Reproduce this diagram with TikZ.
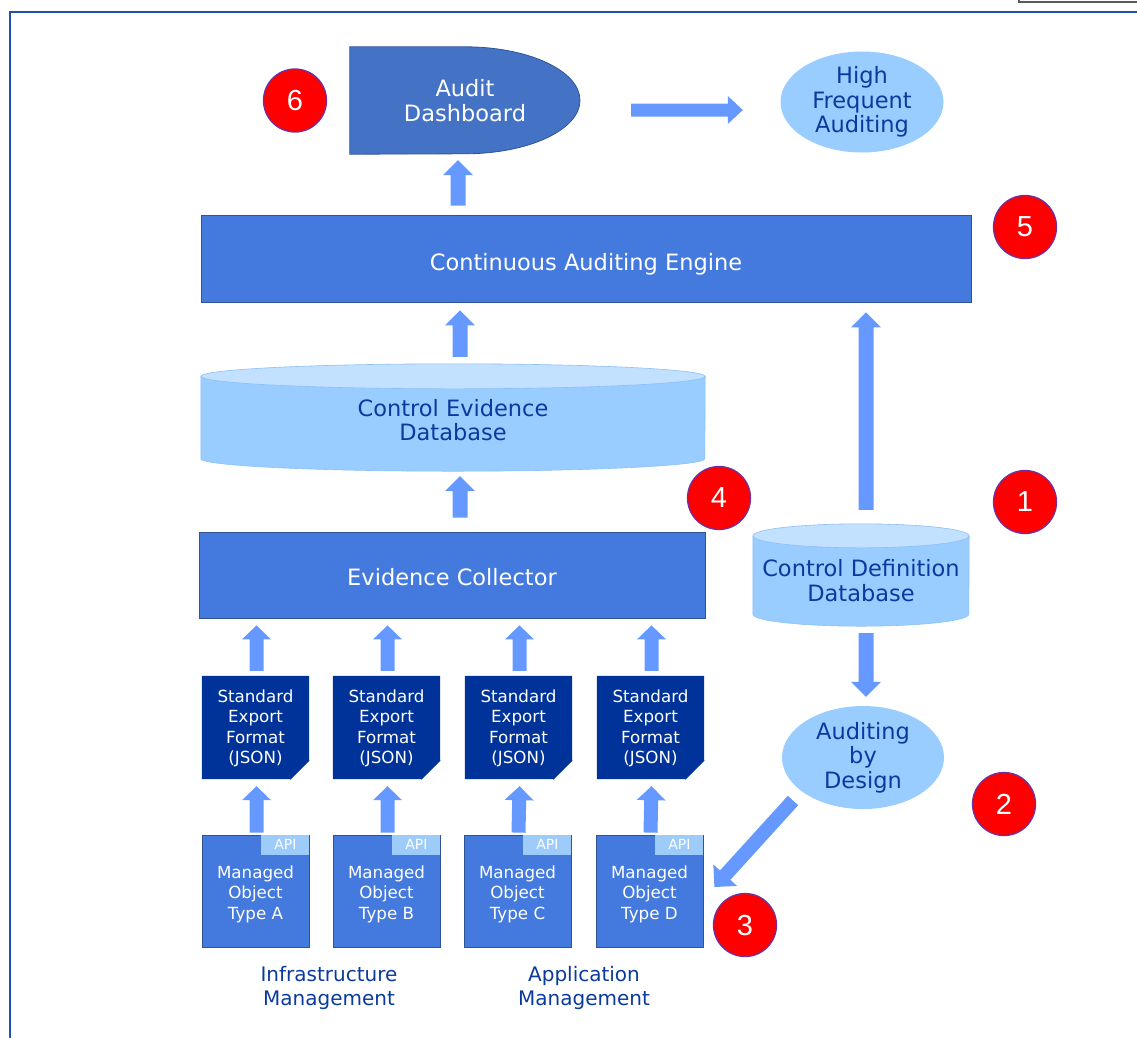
\documentclass[tikz,border=0pt]{standalone}
\usepackage{fontspec}
\setmainfont{DejaVu Sans}
\newfontfamily\numfont{Liberation Sans}
\usetikzlibrary{calc,backgrounds,shapes.geometric}
\definecolor{framec}{RGB}{32,80,176}
\definecolor{boxc}{HTML}{4479DD}
\definecolor{dashc}{HTML}{4472C4}
\definecolor{borderc}{HTML}{2F5597}
\definecolor{docc}{HTML}{003399}
\definecolor{lightc}{HTML}{99CCFF}
\definecolor{lighttop}{HTML}{C2E0FF}
\definecolor{lightborder}{HTML}{8DC0F5}
\definecolor{arrowc}{HTML}{6699FF}
\definecolor{txtc}{HTML}{0B3A9E}
\definecolor{numborder}{HTML}{7030A0}
\definecolor{apic}{HTML}{9DCBFA}
\definecolor{grayc}{RGB}{90,90,90}

\newcommand\lift[1]{\rule{0pt}{#1}}
% block arrow: start, end, half shaft, half head, head length
\newcommand\barrow[5]{%
  \coordinate (ba-a) at (#1);
  \coordinate (ba-b) at (#2);
  \coordinate (ba-h) at ($(ba-b)!#5pt!(ba-a)$);
  \fill[arrowc] ($(ba-a)!#3pt!90:(ba-b)$) -- ($(ba-h)!#3pt!90:(ba-b)$)
    -- ($(ba-h)!#4pt!90:(ba-b)$) -- (ba-b) -- ($(ba-h)!#4pt!-90:(ba-b)$)
    -- ($(ba-h)!#3pt!-90:(ba-b)$) -- ($(ba-a)!#3pt!-90:(ba-b)$) -- cycle;
}
% database cylinder behind a node: node, rx, ry
\newcommand\dbcyl[3]{%
  \begin{scope}[on background layer]
  \filldraw[fill=lightc, draw=lightborder, line width=0.6pt]
    ($(#1.north west)+(0,#3)$) -- ($(#1.south west)+(0,-#3)$)
    arc[start angle=180, end angle=360, x radius=#2pt, y radius=#3pt]
    -- ($(#1.north east)+(0,#3)$) -- cycle;
  \filldraw[fill=lighttop, draw=lightborder, line width=0.6pt]
    ($(#1.north)+(0,#3)$) ellipse [x radius=#2pt, y radius=#3pt];
  \end{scope}}
% folded document behind a node
\newcommand\docshape[1]{%
  \begin{scope}[on background layer]
  \fill[docc] (#1.north west) -- (#1.north east) -- ($(#1.south east)+(0,-19)$)
    -- ($(#1.south east)+(-19,0)$) -- (#1.south west) -- cycle;
  \draw[docc, line width=1pt] ($(#1.south east)+(-19,0)$) -- ($(#1.south east)+(0,-19)$);
  \end{scope}}

\begin{document}
\begin{tikzpicture}[x=1pt,y=-1pt,
  font=\fontsize{22.5}{24.5}\selectfont,
  every node/.style={inner sep=0pt, align=center},
  bluebox/.style={rectangle, fill=boxc, draw=borderc, line width=0.8pt, text=white},
  lightell/.style={ellipse, fill=lightc, text=txtc},
  dbnode/.style={rectangle, text=txtc},
  docnode/.style={rectangle, minimum width=107pt, minimum height=103pt, text=white, font=\fontsize{16.7}{20.5}\selectfont},
  mobj/.style={bluebox, minimum width=107pt, minimum height=112pt, font=\fontsize{16.7}{20.5}\selectfont},
  apitxt/.style={text=white, font=\fontsize{14}{14}\selectfont},
  num/.style={circle, minimum size=63pt, fill=red, draw=numborder, line width=1.3pt, text=white, font=\numfont\fontsize{29}{29}\selectfont},
  mgmt/.style={text=txtc, font=\fontsize{20}{24}\selectfont},
]
\useasboundingbox (0,0) rectangle (1137,1037);

% frame
\draw[framec, line width=1.6pt] (10,1045) -- (10,12) -- (1145,12);
\draw[grayc, line width=2pt] (1019,-10) -- (1019,2) -- (1145,2);

% top row
\node[rectangle, minimum width=230pt, minimum height=107pt, text=white] (dash) at (465,100.5) {Audit\\Dashboard};
\begin{scope}[on background layer]
\filldraw[fill=dashc, draw=borderc, line width=0.8pt] (dash.north west) -- (dash.north)
  arc[start angle=90, end angle=-90, x radius=115pt, y radius=53.5pt] -- (dash.south west) -- cycle;
\end{scope}
\node[lightell, minimum width=163pt, minimum height=101pt] (hf) at (862,102) {High\\Frequent\\Auditing};

% engine
\node[bluebox, minimum width=770pt, minimum height=87pt, text height=23pt, text depth=0pt] (ceng) at (586,258.5) {Continuous Auditing Engine};

% databases
\node[dbnode, minimum width=504pt, minimum height=107pt] (ced) at (453,417.5) {\lift{22pt}Control Evidence\\Database};
\dbcyl{ced}{252}{12.5}
\node[dbnode, minimum width=216pt, minimum height=102pt] (cdd) at (861,575) {\lift{28pt}Control Definition\\Database};
\dbcyl{cdd}{108}{12}

% collector
\node[bluebox, minimum width=506pt, minimum height=86pt, text height=21pt, text depth=0pt] (coll) at (452,575) {Evidence Collector};

% auditing by design
\node[lightell, minimum width=162pt, minimum height=103pt] (abd) at (863,757.5) {Auditing\\by\\Design};

% export documents
\foreach \n/\x in {A/255.5,B/386.5,C/518.5,D/650.5} {
  \node[docnode] (doc\n) at (\x,727.5) {\lift{14.7pt}Standard\\Export\\Format\\(JSON)};
  \docshape{doc\n}
}
% managed objects
\foreach \n/\x in {A/255.5,B/386.5,C/517.5,D/649.5} {
  \node[mobj] (m\n) at (\x,891) {\lift{18.7pt}Managed\\Object\\Type \n};
  \fill[apic] ($(m\n.north east)+(-48,0.4)$) rectangle ($(m\n.north east)+(-0.4,20)$);
  \node[apitxt] (api\n) at ($(m\n.north east)+(-24,10)$) {API};
}

% labels
\node[mgmt] (infra) at (329,988) {Infrastructure\\Management};
\node[mgmt] (appm) at (584,988) {Application\\Management};

% arrows
\barrow{$(dash.east)+(51,9.5)$}{$(hf.west)+(-37.5,8)$}{6.5}{14}{15}
\barrow{$(ceng.north -| dash.south)+(-7,-9)$}{$(dash.south)+(-7,6)$}{7.5}{15}{15}
\barrow{$(ced.north)+(7,-7)$}{$(ceng.south -| ced.north)+(7,8)$}{7.5}{15}{15}
\barrow{$(coll.north -| ced.south)+(7,-14)$}{$(ced.south)+(7,5)$}{7.5}{15}{15}
\barrow{$(cdd.north)+(5,-14)$}{$(ceng.south -| cdd.north)+(5,10)$}{7.5}{15}{15}
\barrow{$(cdd.south)+(5,7)$}{$(abd.north)+(3,-9)$}{7.5}{15}{15}
\barrow{$(abd.center)+(-70,43)$}{$(mD.east)+(11,-4)$}{7}{16}{16}
\foreach \n in {A,B,C,D} {
  \barrow{$(doc\n.north)+(1,-5)$}{$(coll.south -| doc\n.north)+(1,7)$}{7}{14.5}{14}
  \barrow{$(m\n.north)+(1,-2)$}{$(doc\n.south)+(1,7)$}{7}{14.5}{14}
}

% numbers
\node[num] (n6) at (295,100.5) {6};
\node[num] (n5) at (1025,227) {5};
\node[num] (n4) at (719,498) {4};
\node[num] (n1) at (1025,502) {1};
\node[num] (n2) at (1004,804) {2};
\node[num] (n3) at (745,925) {3};
\end{tikzpicture}
\end{document}
